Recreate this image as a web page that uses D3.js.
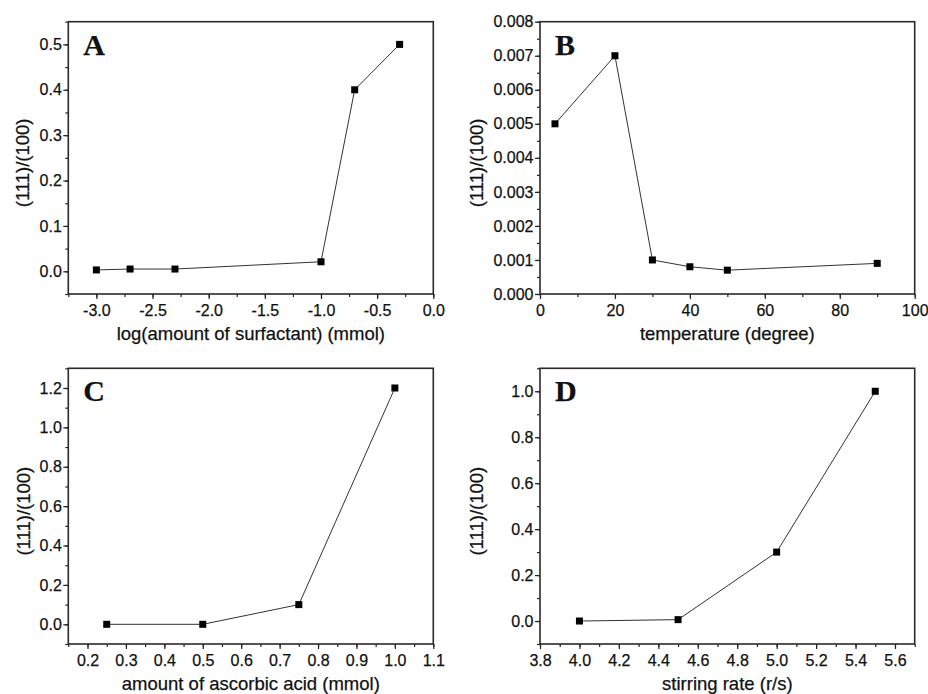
<!DOCTYPE html>
<html>
<head>
<meta charset="utf-8">
<script src="https://cdn.jsdelivr.net/npm/d3@7"></script>
<style>
  body { margin: 0; background: #fff; }
  .chart text { fill: #111; stroke: #111; stroke-width: 0.25px; }
</style>
</head>
<body>
<div class="chart"></div>
<script>
// panel A: log(amount of surfactant)
const surfX = [-3.0, -2.7, -2.3, -1.0, -0.7, -0.3];
const surfY = [0.003, 0.005, 0.005, 0.021, 0.40, 0.50];
const surfXTicks = [-3.0, -2.5, -2.0, -1.5, -1.0, -0.5, 0.0];
const surfYTicks = [0.0, 0.1, 0.2, 0.3, 0.4, 0.5];

// panel B: temperature
const tempX = [4, 20, 30, 40, 50, 90];
const tempY = [0.005, 0.007, 0.001, 0.0008, 0.0007, 0.0009];
const tempXTicks = [0, 20, 40, 60, 80, 100];
const tempYTicks = [0.000, 0.001, 0.002, 0.003, 0.004, 0.005, 0.006, 0.007, 0.008];

// panel C: ascorbic acid
const acidX = [0.25, 0.5, 0.75, 1.0];
const acidY = [0.0, 0.0, 0.1, 1.2];
const acidXTicks = [0.2, 0.3, 0.4, 0.5, 0.6, 0.7, 0.8, 0.9, 1.0, 1.1];
const acidYTicks = [0.0, 0.2, 0.4, 0.6, 0.8, 1.0, 1.2];

// panel D: stirring rate
const stirX = [4.0, 4.5, 5.0, 5.5];
const stirY = [0.0, 0.006, 0.30, 1.0];
const stirXTicks = [3.8, 4.0, 4.2, 4.4, 4.6, 4.8, 5.0, 5.2, 5.4, 5.6];
const stirYTicks = [0.0, 0.2, 0.4, 0.6, 0.8, 1.0];

const w = 928;
const h = 694;
const font = "'Liberation Sans', Arial, sans-serif";

const svg = d3.select('.chart')
    .append('svg')
    .attr('width', w)
    .attr('height', h);

// minor ticks sit halfway between majors
function halfSteps(ticks, domain) {
    const step = ticks[1] - ticks[0];
    const out = [];
    for (let v = ticks[0] - step / 2; v <= domain[1] + 1e-9; v += step / 2) {
        if (v >= domain[0] - 1e-9) out.push(+v.toFixed(6));
    }
    return out;
}

function drawPanel(p) {
    const pw = p.right - p.left;
    const ph = p.bottom - p.top;

    const g = svg.append('g')
        .attr('transform', `translate(${p.left}, ${p.top})`);

    const xScale = d3.scaleLinear().domain(p.xDomain).range([0, pw]);
    const yScale = d3.scaleLinear().domain(p.yDomain).range([ph, 0]);

    // minor ticks
    g.append('g')
        .attr('transform', `translate(0, ${ph})`)
        .call(d3.axisBottom(xScale).tickValues(halfSteps(p.xTicks, p.xDomain))
            .tickSize(3).tickSizeOuter(0).tickFormat(''))
        .call(a => a.select('.domain').remove());
    g.append('g')
        .call(d3.axisLeft(yScale).tickValues(halfSteps(p.yTicks, p.yDomain))
            .tickSize(3).tickSizeOuter(0).tickFormat(''))
        .call(a => a.select('.domain').remove());

    // major ticks
    g.append('g')
        .attr('transform', `translate(0, ${ph})`)
        .call(d3.axisBottom(xScale).tickValues(p.xTicks)
            .tickSize(5).tickSizeOuter(0).tickPadding(5.5)
            .tickFormat(d => d.toFixed(p.xDec)))
        .attr('font-size', 16)
        .attr('font-family', font)
        .call(a => a.select('.domain').remove());

    g.append('g')
        .call(d3.axisLeft(yScale).tickValues(p.yTicks)
            .tickSize(5).tickSizeOuter(0).tickPadding(1.5)
            .tickFormat(d => d.toFixed(p.yDec)))
        .attr('font-size', 16)
        .attr('font-family', font)
        .call(a => a.select('.domain').remove());

    g.selectAll('.tick line').attr('stroke', '#222').attr('stroke-width', 1.2);

    // frame
    g.append('rect')
        .attr('width', pw)
        .attr('height', ph)
        .attr('fill', 'none')
        .attr('stroke', '#2a2a2a')
        .attr('stroke-width', 1.6);

    const pts = p.xs.map((x, i) => [x, p.ys[i]]);

    g.append('path')
        .datum(pts)
        .attr('fill', 'none')
        .attr('stroke', '#333')
        .attr('stroke-width', 1)
        .attr('d', d3.line().x(d => xScale(d[0])).y(d => yScale(d[1])));

    g.selectAll('.pt')
        .data(pts)
        .enter().append('rect')
        .attr('class', 'pt')
        .attr('x', d => xScale(d[0]) - 3.5)
        .attr('y', d => yScale(d[1]) - 3.5)
        .attr('width', 7)
        .attr('height', 7)
        .attr('fill', '#000');

    g.append('text')
        .attr('x', 15)
        .attr('y', 33)
        .attr('font-family', "'Liberation Serif', 'Times New Roman', serif")
        .attr('font-weight', 'bold')
        .attr('font-size', 30)
        .text(p.letter);

    g.append('text')
        .attr('x', pw / 2)
        .attr('y', ph + 46)
        .attr('text-anchor', 'middle')
        .attr('font-family', font)
        .attr('font-size', 18.5)
        .text(p.xLabel);

    g.append('text')
        .attr('transform', `translate(${p.yLabelX}, ${ph / 2 + 5}) rotate(-90)`)
        .attr('dy', '0.35em')
        .attr('text-anchor', 'middle')
        .attr('font-family', font)
        .attr('font-size', 18.5)
        .text('(111)/(100)');
}

drawPanel({
    letter: 'A', left: 68.3, right: 433.3, top: 21.7, bottom: 294,
    xs: surfX, ys: surfY, xDomain: [-3.25, 0], yDomain: [-0.05, 0.55],
    xTicks: surfXTicks, yTicks: surfYTicks, xDec: 1, yDec: 1,
    xLabel: 'log(amount of surfactant) (mmol)', yLabelX: -46
});

drawPanel({
    letter: 'B', left: 540, right: 914.7, top: 21.7, bottom: 294,
    xs: tempX, ys: tempY, xDomain: [0, 100], yDomain: [0, 0.008],
    xTicks: tempXTicks, yTicks: tempYTicks, xDec: 0, yDec: 3,
    xLabel: 'temperature (degree)', yLabelX: -63
});

drawPanel({
    letter: 'C', left: 68.3, right: 433.3, top: 368.3, bottom: 644,
    xs: acidX, ys: acidY, xDomain: [0.15, 1.1], yDomain: [-0.1, 1.3],
    xTicks: acidXTicks, yTicks: acidYTicks, xDec: 1, yDec: 1,
    xLabel: 'amount of ascorbic acid (mmol)', yLabelX: -45
});

drawPanel({
    letter: 'D', left: 540, right: 914.7, top: 368.3, bottom: 644,
    xs: stirX, ys: stirY, xDomain: [3.8, 5.7], yDomain: [-0.1, 1.1],
    xTicks: stirXTicks, yTicks: stirYTicks, xDec: 1, yDec: 1,
    xLabel: 'stirring rate (r/s)', yLabelX: -63
});
</script>
</body>
</html>
